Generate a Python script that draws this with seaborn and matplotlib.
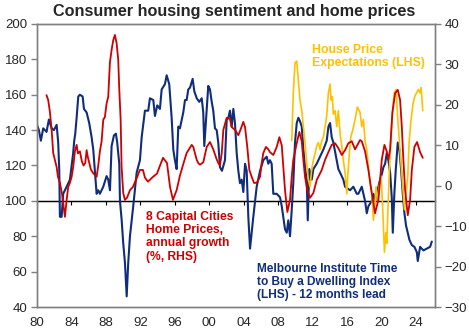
import matplotlib
matplotlib.use("Agg")
import matplotlib.pyplot as plt
import seaborn as sns
import pandas as pd

# Melbourne Institute Time to Buy a Dwelling Index (LHS, 12 months lead)
tti_year = [
    1980.0, 1980.22, 1980.45, 1980.72, 1981.11, 1981.38, 1981.7, 1981.96, 1982.28, 1982.46,
    1982.58, 1982.66, 1982.86, 1983.04, 1983.44, 1983.82, 1984.02, 1984.2, 1984.32, 1984.44,
    1984.6, 1984.79, 1984.98, 1985.3, 1985.45, 1985.76, 1986.06, 1986.34, 1986.53, 1986.72,
    1986.92, 1987.11, 1987.3, 1987.69, 1988.08, 1988.27, 1988.47, 1988.66, 1988.93, 1989.16,
    1989.31, 1989.55, 1989.63, 1989.83, 1990.01, 1990.21, 1990.41, 1990.59, 1990.79, 1991.17,
    1991.57, 1991.95, 1992.15, 1992.53, 1992.91, 1993.11, 1993.5, 1993.69, 1993.96, 1994.27,
    1994.47, 1994.85, 1995.05, 1995.35, 1995.63, 1995.82, 1996.01, 1996.21, 1996.4, 1996.59,
    1996.98, 1997.18, 1997.37, 1997.56, 1997.76, 1998.07, 1998.26, 1998.54, 1998.84, 1999.12,
    1999.3, 1999.42, 1999.62, 1999.88, 2000.08, 2000.28, 2000.46, 2000.66, 2000.86, 2001.04,
    2001.24, 2001.47, 2001.82, 2002.02, 2002.21, 2002.4, 2002.6, 2002.79, 2002.98, 2003.18,
    2003.37, 2003.56, 2003.76, 2003.95, 2004.15, 2004.34, 2004.53, 2004.73, 2004.92, 2005.11,
    2005.5, 2005.89, 2006.27, 2006.66, 2006.85, 2007.04, 2007.24, 2007.43, 2007.83, 2008.21,
    2008.41, 2008.59, 2008.79, 2008.99, 2009.17, 2009.37, 2009.57, 2009.75, 2009.95, 2010.15,
    2010.34, 2010.53, 2010.73, 2010.92, 2011.11, 2011.31, 2011.43, 2011.61, 2011.89, 2012.08,
    2012.47, 2012.86, 2013.24, 2013.63, 2013.83, 2014.02, 2014.21, 2014.4, 2014.79, 2014.98,
    2015.18, 2015.56, 2015.76, 2016.34, 2016.72, 2017.12, 2017.3, 2017.7, 2018.08, 2018.28,
    2018.47, 2018.86, 2019.05, 2019.24, 2019.63, 2019.82, 2020.02, 2020.21, 2020.41, 2020.6,
    2020.79, 2020.99, 2021.18, 2021.3, 2021.48, 2021.65, 2021.88, 2022.07, 2022.26, 2022.46,
    2022.65, 2022.84, 2023.04, 2023.23, 2023.51, 2023.81, 2024.09, 2024.2, 2024.47, 2024.86,
    2025.25, 2025.63, 2025.83,
]
tti_value = [
    143, 140, 134, 141, 139, 146, 141, 140, 143, 133,
    118, 91, 91, 104, 108, 112, 120, 127, 134, 138,
    147, 159, 160, 159, 152, 150, 144, 136, 129, 117,
    104, 106, 104, 108, 114, 112, 106, 131, 137, 138,
    133, 121, 100, 89, 76, 65, 46, 65, 80, 97,
    116, 123, 136, 151, 151, 158, 157, 148, 154, 152,
    163, 166, 171, 166, 147, 129, 123, 118, 142, 141,
    150, 157, 157, 163, 164, 169, 162, 158, 156, 158,
    150, 131, 146, 165, 163, 156, 151, 141, 140, 133,
    119, 117, 123, 146, 147, 151, 142, 152, 144, 127,
    117, 110, 112, 105, 121, 117, 91, 73, 82, 91,
    108, 117, 123, 125, 121, 123, 121, 104, 104, 102,
    97, 91, 84, 82, 89, 80, 95, 110, 133, 144,
    147, 145, 142, 129, 119, 112, 89, 118, 112, 118,
    121, 125, 129, 134, 142, 144, 136, 133, 123, 118,
    116, 112, 108, 106, 108, 104, 104, 108, 100, 93,
    97, 100, 104, 100, 108, 112, 115, 119, 121, 127,
    123, 116, 102, 82, 104, 118, 133, 129, 118, 104,
    93, 86, 82, 78, 75, 74, 71, 66, 74, 72,
    73, 74, 77,
]

# House Price Expectations (LHS)
hpe_year = [
    2009.57, 2009.75, 2009.95, 2010.15, 2010.34, 2010.53, 2010.73, 2010.92, 2011.11, 2011.31,
    2011.5, 2011.69, 2011.89, 2012.08, 2012.28, 2012.47, 2012.66, 2012.86, 2013.05, 2013.24,
    2013.44, 2013.63, 2013.82, 2014.02, 2014.13, 2014.28, 2014.4, 2014.6, 2014.79, 2014.98,
    2015.18, 2015.38, 2015.56, 2015.76, 2015.96, 2016.07, 2016.26, 2016.42, 2016.65, 2016.92,
    2017.19, 2017.3, 2017.5, 2017.7, 2017.89, 2018.08, 2018.28, 2018.47, 2018.66, 2018.86,
    2019.05, 2019.24, 2019.36, 2019.56, 2019.71, 2019.94, 2020.09, 2020.21, 2020.33, 2020.49,
    2020.6, 2020.72, 2020.91, 2021.1, 2021.3, 2021.48, 2021.68, 2021.88, 2022.07, 2022.26,
    2022.46, 2022.65, 2022.84, 2023.04, 2023.19, 2023.42, 2023.65, 2023.85, 2024.05, 2024.27,
    2024.47, 2024.59, 2024.78,
]
hpe_value = [
    134, 161, 178, 179, 168, 157, 151, 142, 133, 121,
    112, 108, 118, 123, 127, 131, 133, 129, 134, 136,
    142, 148, 161, 166, 157, 159, 149, 151, 142, 151,
    138, 131, 123, 116, 104, 114, 127, 136, 140, 146,
    153, 152, 150, 142, 146, 134, 129, 119, 110, 104,
    89, 99, 108, 99, 108, 114, 100, 86, 71, 82,
    76, 93, 118, 136, 153, 161, 163, 146, 133, 121,
    108, 95, 104, 114, 133, 146, 155, 159, 161, 163,
    161, 164, 151,
]

# 8 Capital Cities Home Prices, annual growth (%, RHS)
hp_year = [
    1981.1, 1981.3, 1981.5, 1981.7, 1981.88, 1982.08, 1982.28, 1982.43, 1982.66, 1982.89,
    1983.04, 1983.24, 1983.44, 1983.62, 1983.82, 1984.02, 1984.2, 1984.4, 1984.6, 1984.75,
    1984.98, 1985.21, 1985.4, 1985.6, 1985.76, 1985.91, 1986.26, 1986.52, 1986.92, 1987.11,
    1987.3, 1987.5, 1987.69, 1987.88, 1988.08, 1988.27, 1988.46, 1988.66, 1988.85, 1989.04,
    1989.24, 1989.43, 1989.54, 1989.71, 1989.82, 1990.01, 1990.2, 1990.44, 1990.79, 1991.13,
    1991.6, 1991.94, 1992.3, 1992.53, 1992.88, 1993.46, 1993.93, 1994.28, 1994.63, 1995.09,
    1995.44, 1995.78, 1996.21, 1996.59, 1997.0, 1997.37, 1997.96, 1998.14, 1998.54, 1998.72,
    1998.92, 1999.3, 1999.7, 2000.08, 2000.46, 2000.86, 2001.05, 2001.24, 2001.44, 2001.63,
    2002.02, 2002.4, 2002.6, 2002.98, 2003.37, 2003.56, 2003.95, 2004.15, 2004.41, 2004.65,
    2004.92, 2005.19, 2005.5, 2005.89, 2006.08, 2006.27, 2006.58, 2006.85, 2007.04, 2007.43,
    2007.83, 2008.13, 2008.41, 2008.59, 2008.79, 2009.06, 2009.37, 2009.57, 2009.75, 2010.15,
    2010.45, 2010.73, 2010.92, 2011.11, 2011.38, 2011.69, 2012.08, 2012.47, 2013.05, 2013.44,
    2013.82, 2014.21, 2014.6, 2014.98, 2015.38, 2015.76, 2016.14, 2016.54, 2016.92, 2017.5,
    2017.7, 2018.08, 2018.47, 2018.86, 2019.24, 2019.63, 2020.02, 2020.33, 2020.6, 2020.79,
    2020.99, 2021.25, 2021.57, 2021.88, 2022.15, 2022.35, 2022.53, 2022.73, 2023.04, 2023.31,
    2023.51, 2023.81, 2024.12, 2024.47, 2024.78,
]
hp_value = [
    22.4, 21.2, 18.2, 13.8, 8.1, 6.4, 4.6, 2.2, 0.7, -1.8,
    -4.3, -7.7, -3.5, -0.3, 0.7, 2.2, 4.6, 8.5, 10.1, 8.0,
    8.5, 6.0, 5.0, 5.6, 8.8, 7.0, 4.0, 3.1, 2.2, 5.0,
    8.5, 11.0, 16.3, 17.0, 20.4, 22.0, 30.4, 33.6, 36.0, 37.3,
    35.3, 31.1, 24.4, 16.3, 4.6, -1.8, -3.5, -3.0, -1.1, -0.3,
    2.0, 3.9, 3.9, 2.0, 1.0, 2.2, 3.0, 5.0, 6.9, 5.6,
    -0.3, -3.5, -1.1, 2.5, 5.5, 8.1, 10.1, 9.6, 6.4, 5.6,
    5.2, 5.8, 9.6, 10.8, 9.0, 6.5, 5.6, 5.0, 8.0, 13.8,
    16.8, 16.5, 14.5, 13.8, 12.5, 13.5, 15.8, 14.5, 9.6, 3.9,
    2.2, 0.7, 0.7, 2.2, 5.6, 8.1, 9.6, 9.0, 8.3, 7.6,
    9.6, 12.0, 10.0, 4.6, -1.1, -6.5, -3.5, 2.2, 6.4, 10.5,
    13.3, 11.0, 6.4, 2.2, -1.1, -3.0, -1.8, 1.4, 3.9, 6.4,
    8.3, 10.1, 10.5, 9.3, 7.6, 8.8, 10.5, 11.0, 9.0, 11.3,
    11.0, 8.5, 3.9, -1.8, -6.8, -3.5, 6.4, 10.1, 8.5, 6.4,
    9.0, 18.0, 22.9, 23.7, 21.2, 14.5, 6.4, -1.1, -7.3, -3.5,
    3.9, 9.6, 10.8, 8.3, 6.9,
]

x_ticks = [1980, 1984, 1988, 1992, 1996, 2000, 2004, 2008, 2012, 2016, 2020, 2024]
x_tick_labels = ["80", "84", "88", "92", "96", "00", "04", "08", "12", "16", "20", "24"]
left_ticks = [40, 60, 80, 100, 120, 140, 160, 180, 200]
right_ticks = [-30, -20, -10, 0, 10, 20, 30, 40]

title = "Consumer housing sentiment and home prices"
hpe_label = "House Price\nExpectations (LHS)"
hp_label = "8 Capital Cities\nHome Prices,\nannual growth\n(%, RHS)"
tti_label = "Melbourne Institute Time\nto Buy a Dwelling Index\n(LHS) - 12 months lead"

NAVY = "#0F2D7A"
RED = "#D00000"
YEL = "#FFC000"
GREY = "#808080"

sns.set_style("white")
plt.rcParams["font.family"] = ["Liberation Sans", "DejaVu Sans"]

tti = pd.DataFrame({"year": tti_year, "value": tti_value})
hpe = pd.DataFrame({"year": hpe_year, "value": hpe_value})
hp = pd.DataFrame({"year": hp_year, "value": hp_value})

fig = plt.figure(figsize=(4.69, 3.32), dpi=100)
ax = fig.add_axes([37 / 469, 1 - 307 / 332, (435 - 37) / 469, (307 - 24) / 332])
ax2 = ax.twinx()

ax.axhline(100, color="black", lw=0.9, zorder=1)
sns.lineplot(data=tti, x="year", y="value", ax=ax, color=NAVY, lw=1.5, zorder=2)
sns.lineplot(data=hpe, x="year", y="value", ax=ax, color=YEL, lw=1.2, zorder=3)
sns.lineplot(data=hp, x="year", y="value", ax=ax2, color=RED, lw=1.3, zorder=4)

ax.set_xlim(1980, 2026.2)
ax.set_ylim(40, 200)
ax2.set_ylim(-30, 40)
for a in (ax, ax2):
    a.set_xlabel("")
    a.set_ylabel("")
    for s in a.spines.values():
        s.set_color(GREY)
        s.set_linewidth(1.0)

ax.set_xticks(x_ticks)
ax.set_xticklabels(x_tick_labels)
ax.tick_params(axis="x", length=0, pad=7.5, labelsize=9.5)
ax.set_yticks(left_ticks)
ax.tick_params(axis="y", left=True, length=4, width=1, color=GREY, direction="out", pad=3, labelsize=9.5)
ax2.set_yticks(right_ticks)
ax2.tick_params(axis="y", right=True, length=4, width=1, color=GREY, direction="out", pad=3, labelsize=9.5)

# category axis crossing at 100 with small ticks
sec = ax.secondary_xaxis((100 - 40) / (200 - 40))
sec.set_xticks(x_ticks)
sec.tick_params(axis="x", length=3, width=0.8, color="black", labelbottom=False, labeltop=False)
for s in sec.spines.values():
    s.set_color("black")
    s.set_linewidth(0.9)

ax.text(2011.93, 181.6, hpe_label, color=YEL, fontsize=8.8, fontweight="bold",
        ha="left", va="center", linespacing=1.1)
ax.text(1992.65, 79.8, hp_label, color=RED, fontsize=8.7, fontweight="bold",
        ha="left", va="center", linespacing=1.15)
ax.text(2005.5, 54.2, tti_label, color=NAVY, fontsize=8.6, fontweight="bold",
        ha="left", va="center", linespacing=1.1)

fig.text(0.5, 0.965, title, ha="center", va="center", fontsize=11.7, fontweight="bold")

fig.savefig("out.png", dpi=100)
